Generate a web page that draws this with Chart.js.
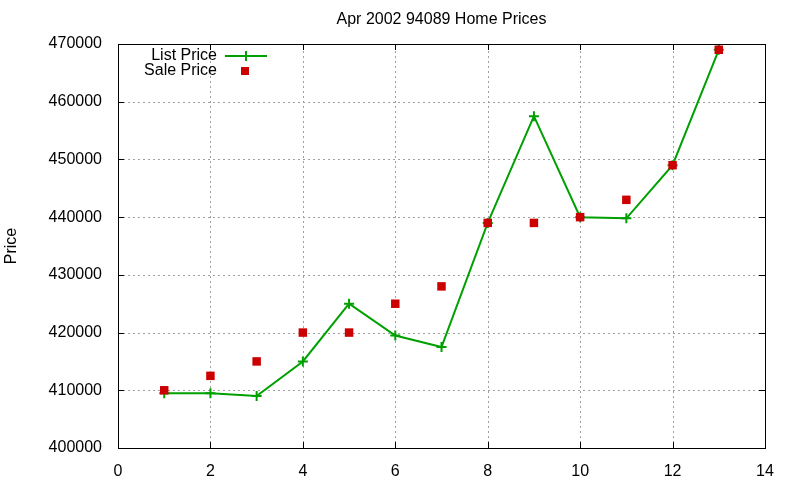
<!DOCTYPE html>
<html><head><meta charset="utf-8">
<script src="https://cdn.jsdelivr.net/npm/chart.js@4/dist/chart.umd.min.js"></script>
<style>html,body{margin:0;padding:0;background:#fff}#wrap{width:800px;height:480px}</style>
</head><body><div id="wrap"><canvas id="c" width="800" height="480"></canvas></div>
<script>
const months = [1,2,3,4,5,6,7,8,9,10,11,12,13];
const listPrice = [409500,409500,409000,415000,425000,419500,417500,439000,457500,440000,439800,449000,469000];
const salePrice = [410000,412500,415000,420000,420000,425000,428000,439000,439000,440000,443000,449000,469000];
const xTicks = [0,2,4,6,8,10,12,14];
const yTicks = [400000,410000,420000,430000,440000,450000,460000,470000];
const titleText = 'Apr 2002 94089 Home Prices';
const yLabel = 'Price';
const FONT = '"Liberation Sans", Arial, sans-serif';
const GREEN = '#00a000', RED = '#cc0000';

const gridPlugin = {
  id: 'gridPlugin',
  beforeDatasetsDraw(chart) {
    const {ctx, chartArea: a, scales: {x, y}} = chart;
    ctx.save();
    ctx.strokeStyle = '#a0a0a0'; ctx.lineWidth = 1; ctx.setLineDash([2, 3]);
    ctx.beginPath();
    xTicks.forEach(v => { if (v === 0 || v === 14) return;
      const px = Math.round(x.getPixelForValue(v)) + 0.5;
      ctx.moveTo(px, a.bottom); ctx.lineTo(px, a.top); });
    yTicks.forEach(v => { if (v === 400000 || v === 470000) return;
      const py = Math.round(y.getPixelForValue(v)) + 0.5;
      ctx.moveTo(a.left, py); ctx.lineTo(a.right, py); });
    ctx.stroke();
    ctx.restore();
  }
};

const decor = {
  id: 'decor',
  afterDraw(chart) {
    const {ctx, chartArea: a, scales: {x, y}} = chart;
    ctx.save();
    ctx.strokeStyle = '#000'; ctx.lineWidth = 1;
    ctx.strokeRect(a.left + 0.5, a.top + 0.5, a.right - a.left, a.bottom - a.top);
    ctx.beginPath();
    xTicks.forEach(v => { const px = Math.round(x.getPixelForValue(v)) + 0.5;
      ctx.moveTo(px, a.bottom); ctx.lineTo(px, a.bottom - 6);
      ctx.moveTo(px, a.top); ctx.lineTo(px, a.top + 6); });
    yTicks.forEach(v => { const py = Math.round(y.getPixelForValue(v)) + 0.5;
      ctx.moveTo(a.left, py); ctx.lineTo(a.left + 6, py);
      ctx.moveTo(a.right, py); ctx.lineTo(a.right - 6, py); });
    ctx.stroke();
    ctx.fillStyle = '#000'; ctx.font = '16px ' + FONT;
    ctx.textAlign = 'center'; ctx.textBaseline = 'middle';
    ctx.fillText(titleText, (a.left + a.right) / 2, 20);
    ctx.save(); ctx.translate(12, 246); ctx.rotate(-Math.PI / 2);
    ctx.font = '16px ' + FONT; ctx.fillText(yLabel, 0, 0); ctx.restore();
    ctx.font = '16px ' + FONT; ctx.textAlign = 'right';
    const lx = a.left + 99, ly1 = a.top + 12, ly2 = a.top + 27;
    ctx.fillText(chart.data.datasets[0].label, lx, ly1);
    ctx.fillText(chart.data.datasets[1].label, lx, ly2);
    ctx.strokeStyle = GREEN; ctx.lineWidth = 2;
    ctx.beginPath(); ctx.moveTo(lx + 8, ly1); ctx.lineTo(lx + 50, ly1);
    ctx.moveTo(lx + 29, ly1 - 5); ctx.lineTo(lx + 29, ly1 + 5); ctx.stroke();
    ctx.fillStyle = RED; ctx.fillRect(lx + 24, ly2 - 4, 8, 8);
    ctx.restore();
  }
};

new Chart(document.getElementById('c'), {
  type: 'scatter',
  data: {
    datasets: [
      { label: 'List Price', data: months.map((m, i) => ({x: m, y: listPrice[i]})), order: 1,
        showLine: true, borderColor: GREEN, backgroundColor: GREEN, borderWidth: 2,
        pointStyle: 'cross', pointRadius: 5, pointBorderWidth: 2, pointBorderColor: GREEN },
      { label: 'Sale Price', data: months.map((m, i) => ({x: m, y: salePrice[i]})), order: 0,
        showLine: false, backgroundColor: RED, borderColor: RED,
        pointStyle: 'rect', pointRadius: 6, pointBorderWidth: 0 }
    ]
  },
  options: {
    responsive: false, animation: false, devicePixelRatio: 1,
    layout: { padding: { left: 0, right: 35, top: 44, bottom: 0 } },
    plugins: { legend: { display: false }, tooltip: { enabled: false }, title: { display: false } },
    scales: {
      x: { type: 'linear', min: 0, max: 14,
        afterBuildTicks: s => { s.ticks = xTicks.map(v => ({value: v})); },
        afterFit: s => { s.height = 32; },
        grid: { display: false },
        border: { display: false },
        ticks: { color: '#000', font: { family: FONT, size: 16 }, padding: 6, maxRotation: 0 } },
      y: { type: 'linear', min: 400000, max: 470000,
        afterBuildTicks: s => { s.ticks = yTicks.map(v => ({value: v})); },
        afterFit: s => { s.width = 118; },
        grid: { display: false },
        border: { display: false },
        ticks: { color: '#000', font: { family: FONT, size: 16 }, padding: 8, callback: v => String(v) } }
    }
  },
  plugins: [gridPlugin, decor]
});
</script></body></html>
